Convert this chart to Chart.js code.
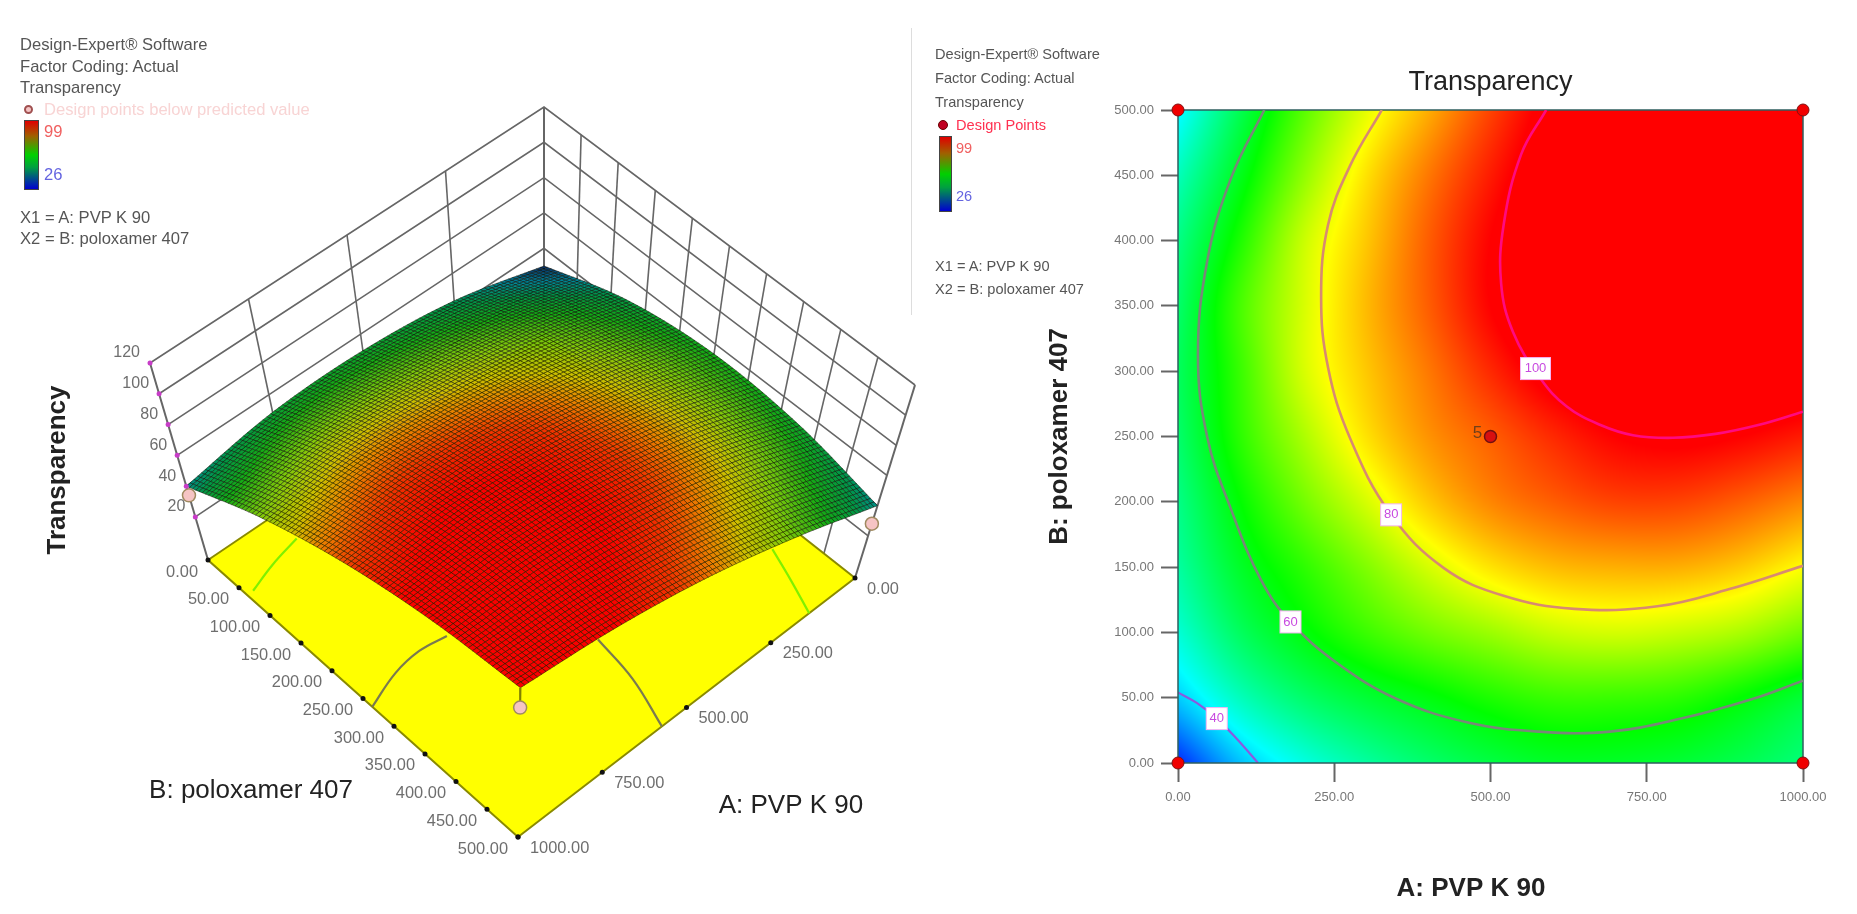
<!DOCTYPE html>
<html>
<head>
<meta charset="utf-8">
<title>Transparency</title>
<script src="https://cdn.jsdelivr.net/npm/chart.js@4/dist/chart.umd.min.js"></script>
<style>
  html, body { margin: 0; padding: 0; background: #fff; }
  #page { position: relative; width: 1857px; height: 914px; overflow: hidden; filter: blur(0.55px); font-family: "Liberation Sans", Arial, sans-serif; }
  canvas { position: absolute; top: 0; }
  #surfaceChart { left: 0; }
  #contourChart { left: 1000px; }
  .t { position: absolute; white-space: nowrap; line-height: 20px; margin-top: -10px; color: #555; }
  .l { font-size: 16.6px; }
  .r { font-size: 14.6px; }
  .bar { position: absolute; box-sizing: border-box; border: 1px solid #444; background: linear-gradient(#e00000, #a06000 22%, #00d000 50%, #00a040 68%, #0000d0); }
  .dot { position: absolute; border-radius: 50%; box-sizing: border-box; }
</style>
</head>
<body>
<div id="page">
  <canvas id="surfaceChart" width="925" height="914"></canvas>
  <canvas id="contourChart" width="857" height="914"></canvas>

  <div class="t l" style="left:20px;top:45px">Design-Expert® Software</div>
  <div class="t l" style="left:20px;top:67px">Factor Coding: Actual</div>
  <div class="t l" style="left:20px;top:88px">Transparency</div>
  <div class="dot" style="left:24px;top:105px;width:9px;height:9px;background:#f4c4c4;border:2px solid #a05050"></div>
  <div class="t l" style="left:44px;top:110px;color:#f8d4d4">Design points below predicted value</div>
  <div class="bar" style="left:24px;top:120px;width:15px;height:70px"></div>
  <div class="t l" style="left:44px;top:132px;color:#f06060">99</div>
  <div class="t l" style="left:44px;top:175px;color:#6464e0">26</div>
  <div class="t l" style="left:20px;top:218px">X1 = A: PVP K 90</div>
  <div class="t l" style="left:20px;top:239px">X2 = B: poloxamer 407</div>

  <div style="position:absolute;left:911px;top:28px;width:1px;height:287px;background:#ddd"></div>

  <div class="t r" style="left:935px;top:54px">Design-Expert® Software</div>
  <div class="t r" style="left:935px;top:78px">Factor Coding: Actual</div>
  <div class="t r" style="left:935px;top:102px">Transparency</div>
  <div class="dot" style="left:938px;top:120px;width:10px;height:10px;background:#c00020;border:1px solid #600"></div>
  <div class="t r" style="left:956px;top:125px;color:#ff3050">Design Points</div>
  <div class="bar" style="left:939px;top:136px;width:13px;height:76px"></div>
  <div class="t r" style="left:956px;top:148px;color:#f06060">99</div>
  <div class="t r" style="left:956px;top:196px;color:#6464e0">26</div>
  <div class="t r" style="left:935px;top:266px">X1 = A: PVP K 90</div>
  <div class="t r" style="left:935px;top:289px">X2 = B: poloxamer 407</div>
</div>

<script>
// CONTOUR PLOT DATA
const factorA = [0, 100, 200, 300, 400, 500, 600, 700, 800, 900, 1000]
const factorB = [0, 50, 100, 150, 200, 250, 300, 350, 400, 450, 500]
// rows follow factorB, columns follow factorA
const transparency = [
  [26, 38, 45, 50, 54, 57, 59, 59, 58, 56, 53],
  [39, 48, 54, 58, 61, 64, 66, 66, 65, 62, 58],
  [46, 55, 61, 66, 70, 73, 76, 77, 76, 74, 70],
  [50, 59, 65, 71, 77, 82, 85, 86, 86, 84, 80],
  [52, 62, 70, 77, 84, 89, 92, 94, 94, 92, 89],
  [54, 65, 74, 82, 88, 92, 96, 99, 100, 99, 97],
  [55, 66, 77, 84, 90, 96, 101, 103, 105, 104, 103],
  [54, 67, 77, 85, 92, 99, 104, 107, 108, 108, 106],
  [52, 64, 76, 84, 92, 99, 104, 108, 110, 110, 108],
  [48, 60, 72, 82, 90, 97, 103, 108, 110, 110, 108],
  [42, 56, 68, 78, 86, 94, 101, 106, 109, 110, 109],
]

const contour40 = [[0, 54], [30, 46], [62, 34], [95, 18], [128, 0]]
const contour60 = [[138, 500], [85, 448], [47, 385], [32, 312], [47, 249], [85, 194], [133, 140], [180, 108], [256, 76], [350, 49], [464, 31], [578, 24], [691, 24], [805, 34], [919, 49], [1000, 63]]
const contour80 = [[326, 500], [275, 457], [240, 412], [229, 357], [240, 303], [275, 249], [341, 190], [426, 149], [521, 128], [634, 118], [767, 120], [881, 133], [1000, 151]]
const contour100 = [[589, 500], [549, 466], [521, 412], [517, 367], [536, 330], [579, 295], [622, 273], [675, 259], [728, 251], [792, 249], [860, 252], [930, 259], [1000, 269]]

const contourLabelText = ["40", "60", "80", "100"]
const contourLabelA = [62, 180, 341, 572]
const contourLabelB = [34, 108, 190, 302]

const designCornersA = [0, 1000, 0, 1000]
const designCornersB = [0, 0, 500, 500]

// SURFACE PLOT DATA
const surfaceA = [0, 250, 500, 750, 1000]
const surfaceB = [0, 125, 250, 375, 500]
const surfaceZ = [
  [30, 44, 50, 49, 40],
  [47, 63, 72, 74, 66],
  [54, 73, 86, 90, 84],
  [51, 74, 89, 96, 94],
  [40, 63, 81, 92, 97],
]
const zTicks = [20, 40, 60, 80, 100, 120]
const aTicks = [0, 250, 500, 750, 1000]
const bTicks = [0, 50, 100, 150, 200, 250, 300, 350, 400, 450, 500]
const aWallLines = [250, 500, 750]
const bWallLines = [50, 100, 150, 200, 250, 300, 350, 400, 450]

const floorGreenLeft = [[982, 63], [900, 50], [810, 40]]
const floorGreenRight = [[136, 500], [100, 450], [70, 405]]
const floorGrayLeft = [[1000, 265], [900, 248], [820, 243], [747, 248]]
const floorGrayRight = [[573, 500], [531, 430], [512, 364]]

// A, B, Z of the design markers seen on the surface plot
const surfaceMarkersA = [1000, 1000, 0]
const surfaceMarkersB = [500, 0, 500]
const surfaceMarkersZ = [83, 34, 28]

// COLOUR RAMPS
const heatStops = [[26, [0, 40, 255]], [43, [0, 255, 255]], [62, [0, 255, 0]], [80, [255, 255, 0]], [99, [255, 0, 0]]]
const meshStops = [[30, [10, 40, 100]], [38, [0, 135, 155]], [46, [0, 150, 70]], [55, [20, 170, 20]], [66, [130, 200, 10]], [74, [205, 190, 0]], [80, [235, 125, 0]], [86, [240, 50, 0]], [92, [250, 0, 0]]]

function rampColor(stops, v) {
  if (v <= stops[0][0]) return stops[0][1]
  for (let i = 1; i < stops.length; i++) {
    if (v <= stops[i][0]) {
      const t = (v - stops[i - 1][0]) / (stops[i][0] - stops[i - 1][0])
      return stops[i][1].map((c, k) => stops[i - 1][1][k] + (c - stops[i - 1][1][k]) * t)
    }
  }
  return stops[stops.length - 1][1]
}

// smooth shading between the read table nodes
function tableValue(table, fx, fy) {
  const rows = table.length, cols = table[0].length
  const get = (r, c) => {
    const rr = Math.min(rows - 1, Math.max(0, r)), cc = Math.min(cols - 1, Math.max(0, c))
    let v = table[rr][cc]
    if (r < 0) v = 2 * table[0][cc] - table[1][cc]
    if (r >= rows) v = 2 * table[rows - 1][cc] - table[rows - 2][cc]
    if (c < 0) v += table[rr][0] - table[rr][1]
    if (c >= cols) v += table[rr][cols - 1] - table[rr][cols - 2]
    return v
  }
  const cubic = (a, b, c, d, t) => b + 0.5 * t * (c - a + t * (2 * a - 5 * b + 4 * c - d + t * (3 * (b - c) + d - a)))
  const x0 = Math.min(cols - 2, Math.floor(fx)), y0 = Math.min(rows - 2, Math.floor(fy))
  const tx = fx - x0, ty = fy - y0
  const col = []
  for (let r = -1; r <= 2; r++) {
    col.push(cubic(get(y0 + r, x0 - 1), get(y0 + r, x0), get(y0 + r, x0 + 1), get(y0 + r, x0 + 2), tx))
  }
  return cubic(col[0], col[1], col[2], col[3], ty)
}

// 3D BOX PROJECTION: bilinear between the box corners of the picture
const zFloor = -8, zTop = 120
const floorCorners = { back: [544, 333], left: [208, 560], right: [855, 578], front: [518, 837] }
const topCorners = { back: [544, 107], left: [150, 363], right: [915, 385], front: [521, 655] }

function quadPoint(q, u, v) {
  const x = (1 - u) * (1 - v) * q.back[0] + u * (1 - v) * q.left[0] + (1 - u) * v * q.right[0] + u * v * q.front[0]
  const y = (1 - u) * (1 - v) * q.back[1] + u * (1 - v) * q.left[1] + (1 - u) * v * q.right[1] + u * v * q.front[1]
  return [x, y]
}

function project(a, b, z) {
  const u = a / 1000, v = b / 500, t = (z - zFloor) / (zTop - zFloor)
  const f = quadPoint(floorCorners, u, v), c = quadPoint(topCorners, u, v)
  return { x: f[0] + (c[0] - f[0]) * t, y: f[1] + (c[1] - f[1]) * t }
}

function line(points, color, width, extra) {
  return Object.assign({ type: "scatter", data: points, showLine: true, borderColor: color, borderWidth: width, pointRadius: 0, fill: false, tension: 0 }, extra || {})
}

// bottom layer first, the list is reversed for chart.js below
const surfaceLayers = []
zTicks.forEach((z) => {
  surfaceLayers.push(line([project(1000, 0, z), project(0, 0, z), project(0, 500, z)], "#666", 1.6))
})
aWallLines.forEach((a) => {
  surfaceLayers.push(line([project(a, 0, zFloor), project(a, 0, zTop)], "#666", 1.6))
})
bWallLines.forEach((b) => {
  surfaceLayers.push(line([project(0, b, zFloor), project(0, b, zTop)], "#666", 1.6))
})
surfaceLayers.push(line([project(0, 0, zFloor), project(0, 0, zTop)], "#666", 2))
surfaceLayers.push(line([project(1000, 0, zFloor), project(1000, 0, zTop)], "#666", 2))
surfaceLayers.push(line([project(0, 500, zFloor), project(0, 500, zTop)], "#666", 2))
surfaceLayers.push(line(
  [project(0, 0, zFloor), project(1000, 0, zFloor), project(1000, 500, zFloor), project(0, 500, zFloor), project(0, 0, zFloor)],
  "#8a8a00", 2, { fill: "shape", backgroundColor: "#ffff00" }
))
const onFloor = (list) => list.map((p) => project(p[0], p[1], zFloor))
surfaceLayers.push(line(onFloor(floorGreenLeft), "#80f000", 2.2, { tension: 0.4 }))
surfaceLayers.push(line(onFloor(floorGreenRight), "#80f000", 2.2, { tension: 0.4 }))
surfaceLayers.push(line(onFloor(floorGrayLeft), "#7a7a50", 2.2, { tension: 0.4 }))
surfaceLayers.push(line(onFloor(floorGrayRight), "#7a7a50", 2.2, { tension: 0.4 }))
surfaceLayers.push({ type: "scatter", label: "surface", data: [] })
surfaceLayers.push(line([project(1000, 500, 97), project(1000, 500, surfaceMarkersZ[0])], "#808000", 2))
surfaceLayers.push({
  type: "scatter",
  data: surfaceMarkersA.map((a, i) => project(a, surfaceMarkersB[i], surfaceMarkersZ[i])),
  pointRadius: 6.5,
  pointBackgroundColor: "#f6c4c4",
  pointBorderColor: "#a08a60",
  pointBorderWidth: 1.5,
})
surfaceLayers.push({
  type: "scatter",
  data: zTicks.map((z) => project(1000, 0, z)),
  pointRadius: 2.5,
  pointBackgroundColor: "#c83cc8",
  pointBorderWidth: 0,
})
surfaceLayers.push({
  type: "scatter",
  data: bTicks.map((b) => project(1000, b, zFloor)).concat(aTicks.map((a) => project(a, 500, zFloor))),
  pointRadius: 2.5,
  pointBackgroundColor: "#111",
  pointBorderWidth: 0,
})

// SURFACE MESH
const surfaceMeshPlugin = {
  id: "surfaceMesh",
  afterDatasetDraw(chart, args) {
    if (chart.data.datasets[args.index].label !== "surface") return
    const ctx = chart.ctx
    const xs = chart.scales.x, ys = chart.scales.y
    const n = 90
    const last = surfaceA.length - 1
    const nodes = []
    for (let i = 0; i <= n; i++) {
      nodes.push([])
      for (let j = 0; j <= n; j++) {
        const z = tableValue(surfaceZ, (i / n) * last, (j / n) * last)
        const p = project((surfaceA[last] * i) / n, (surfaceB[last] * j) / n, z)
        nodes[i].push({ x: xs.getPixelForValue(p.x), y: ys.getPixelForValue(p.y), z: z })
      }
    }
    ctx.save()
    ctx.lineWidth = 0.9
    ctx.strokeStyle = "rgba(10,15,0,0.55)"
    // back corner first, front corner last
    for (let i = 0; i < n; i++) {
      for (let j = 0; j < n; j++) {
        const a = nodes[i][j], b = nodes[i + 1][j], c = nodes[i + 1][j + 1], d = nodes[i][j + 1]
        const col = rampColor(meshStops, (a.z + b.z + c.z + d.z) / 4)
        ctx.fillStyle = "rgb(" + col.map(Math.round).join(",") + ")"
        ctx.beginPath()
        ctx.moveTo(a.x, a.y)
        ctx.lineTo(b.x, b.y)
        ctx.lineTo(c.x, c.y)
        ctx.lineTo(d.x, d.y)
        ctx.closePath()
        ctx.fill()
        ctx.stroke()
      }
    }
    ctx.restore()
  },
}

// SURFACE TEXT
const surfaceTextPlugin = {
  id: "surfaceText",
  afterDraw(chart) {
    const ctx = chart.ctx
    const xs = chart.scales.x, ys = chart.scales.y
    const put = (text, p, dx, dy, align) => {
      ctx.textAlign = align
      ctx.fillText(text, xs.getPixelForValue(p.x) + dx, ys.getPixelForValue(p.y) + dy)
    }
    ctx.save()
    ctx.textBaseline = "middle"
    ctx.font = '16px "Liberation Sans"'
    ctx.fillStyle = "#6e6e6e"
    zTicks.forEach((z) => put(String(z), project(1000, 0, z), -10, -10, "right"))
    ctx.font = '16.4px "Liberation Sans"'
    bTicks.forEach((b) => put(b.toFixed(2), project(1000, b, zFloor), -10, 12, "right"))
    aTicks.forEach((a) => put(a.toFixed(2), project(a, 500, zFloor), 12, 11, "left"))

    ctx.fillStyle = "#222"
    ctx.textAlign = "center"
    ctx.font = '26px "Liberation Sans"'
    ctx.fillText("B: poloxamer 407", 251, 791)
    ctx.fillText("A: PVP K 90", 791, 806)
    ctx.translate(58, 470)
    ctx.rotate(-Math.PI / 2)
    ctx.font = 'bold 26px "Liberation Sans"'
    ctx.fillText("Transparency", 0, 0)
    ctx.restore()
  },
}

new Chart(document.getElementById("surfaceChart"), {
  type: "scatter",
  data: { datasets: surfaceLayers.reverse() },
  options: {
    responsive: false,
    animation: false,
    layout: { padding: 0, autoPadding: false },
    plugins: { legend: { display: false }, tooltip: { enabled: false } },
    scales: {
      x: { type: "linear", min: 0, max: 925, display: false },
      y: { type: "linear", min: 0, max: 914, reverse: true, display: false },
    },
  },
  plugins: [surfaceMeshPlugin, surfaceTextPlugin],
})

// CONTOUR HEAT MAP
const heatMapPlugin = {
  id: "heatMap",
  beforeDatasetsDraw(chart) {
    const area = chart.chartArea
    const xs = chart.scales.x, ys = chart.scales.y
    const w = Math.round(area.right - area.left), h = Math.round(area.bottom - area.top)
    const off = document.createElement("canvas")
    off.width = w
    off.height = h
    const octx = off.getContext("2d")
    const img = octx.createImageData(w, h)
    const stepA = factorA[1] - factorA[0], stepB = factorB[1] - factorB[0]
    for (let py = 0; py < h; py++) {
      const b = ys.getValueForPixel(area.top + py + 0.5)
      for (let px = 0; px < w; px++) {
        const a = xs.getValueForPixel(area.left + px + 0.5)
        const col = rampColor(heatStops, tableValue(transparency, a / stepA, b / stepB))
        const k = (py * w + px) * 4
        img.data[k] = col[0]
        img.data[k + 1] = col[1]
        img.data[k + 2] = col[2]
        img.data[k + 3] = 255
      }
    }
    octx.putImageData(img, 0, 0)
    chart.ctx.drawImage(off, area.left, area.top)
  },
  afterDatasetsDraw(chart) {
    const ctx = chart.ctx
    const xs = chart.scales.x, ys = chart.scales.y
    ctx.save()
    // labels on the contour lines
    ctx.font = '13px "Liberation Sans"'
    ctx.textAlign = "center"
    ctx.textBaseline = "middle"
    contourLabelText.forEach((text, i) => {
      const x = xs.getPixelForValue(contourLabelA[i]), y = ys.getPixelForValue(contourLabelB[i])
      const w = text.length > 2 ? 30 : 21
      ctx.fillStyle = "#fff"
      ctx.strokeStyle = "#f4b4f4"
      ctx.lineWidth = 1
      ctx.fillRect(x - w / 2, y - 11, w, 22)
      ctx.strokeRect(x - w / 2, y - 11, w, 22)
      ctx.fillStyle = "#c84ae0"
      ctx.fillText(text, x, y)
    })
    // the "5" replicate label
    ctx.font = '17px "Liberation Sans"'
    ctx.fillStyle = "#70401a"
    ctx.fillText("5", xs.getPixelForValue(500) - 13, ys.getPixelForValue(250) - 3)
    // x axis title sits off centre in the reference
    ctx.font = 'bold 26px "Liberation Sans"'
    ctx.fillStyle = "#222"
    ctx.fillText("A: PVP K 90", xs.getPixelForValue(1000) - 332, 889)
    ctx.restore()
  },
}

const plotFramePlugin = {
  id: "plotFrame",
  afterDatasetDraw(chart, args) {
    if (args.index !== chart.data.datasets.length - 1) return
    const a = chart.chartArea
    chart.ctx.save()
    chart.ctx.strokeStyle = "#2f5f5f"
    chart.ctx.lineWidth = 1.5
    chart.ctx.strokeRect(a.left, a.top, a.right - a.left, a.bottom - a.top)
    chart.ctx.restore()
  },
}

const toPoints = (list) => list.map((p) => ({ x: p[0], y: p[1] }))

new Chart(document.getElementById("contourChart"), {
  type: "scatter",
  data: {
    datasets: [
      {
        data: designCornersA.map((a, i) => ({ x: a, y: designCornersB[i] })),
        pointRadius: 6,
        pointBackgroundColor: "#f00000",
        pointBorderColor: "#801010",
        pointBorderWidth: 1,
        clip: false,
      },
      {
        data: [{ x: 500, y: 250 }],
        pointRadius: 6,
        pointBackgroundColor: "#d81010",
        pointBorderColor: "#701010",
        pointBorderWidth: 1.5,
      },
      line(toPoints(contour100), "#ff0a80", 2.6, { tension: 0.4 }),
      line(toPoints(contour80), "#d88a70", 2.6, { tension: 0.4 }),
      line(toPoints(contour60), "#788878", 2.6, { tension: 0.4 }),
      line(toPoints(contour40), "#8a5ae0", 2.2, { tension: 0.4 }),
    ],
  },
  options: {
    responsive: false,
    animation: false,
    layout: { padding: { left: 0, right: 54, top: 0, bottom: 0 }, autoPadding: false },
    plugins: {
      legend: { display: false },
      tooltip: { enabled: false },
      title: {
        display: true,
        text: "Transparency",
        fullSize: false,
        color: "#222",
        font: { family: "Liberation Sans", size: 27, weight: "normal", lineHeight: 1 },
        padding: { top: 69.5, bottom: 13.5 },
      },
    },
    scales: {
      x: {
        type: "linear",
        min: 0,
        max: 1000,
        afterFit: (scale) => { scale.height = 151 },
        grid: { drawOnChartArea: false, tickLength: 19, tickColor: "#666", tickWidth: 2 },
        border: { display: false },
        ticks: {
          stepSize: 250,
          maxRotation: 0,
          padding: 8,
          color: "#777",
          font: { family: "Liberation Sans", size: 13 },
          callback: (v) => Number(v).toFixed(2),
        },
      },
      y: {
        type: "linear",
        min: 0,
        max: 500,
        afterFit: (scale) => { scale.width = 178 },
        grid: { drawOnChartArea: false, tickLength: 17, tickColor: "#666", tickWidth: 2 },
        border: { display: false },
        title: {
          display: true,
          text: "B: poloxamer 407",
          color: "#222",
          font: { family: "Liberation Sans", size: 26, weight: "bold", lineHeight: 1 },
          padding: { top: 47, bottom: 0 },
        },
        ticks: {
          stepSize: 50,
          padding: 7,
          color: "#777",
          font: { family: "Liberation Sans", size: 13 },
          callback: (v) => Number(v).toFixed(2),
        },
      },
    },
  },
  plugins: [heatMapPlugin, plotFramePlugin],
})
</script>
</body>
</html>
